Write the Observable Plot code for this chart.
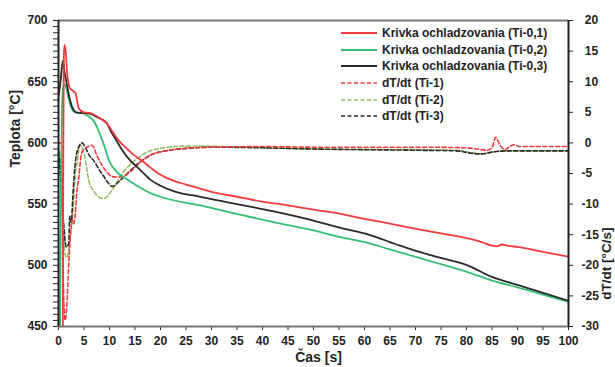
<!DOCTYPE html>
<html>
<head>
<meta charset="utf-8">
<script src="https://cdn.jsdelivr.net/npm/d3@7"></script>
<script src="https://cdn.jsdelivr.net/npm/@observablehq/plot@0.6"></script>
<style>
  body { margin: 0; background: #fff; }
  #wrap { position: relative; width: 615px; height: 367px; font-family: "Liberation Sans", Arial, sans-serif; }
  #legend { position: absolute; left: 341px; top: 24.5px; font-weight: bold; font-size: 12px; color: #222; }
  #legend .row { display: flex; align-items: center; height: 16.7px; white-space: nowrap; }
  #legend svg { margin-right: 5px; }
</style>
</head>
<body>
<div id="wrap"><div id="legend"></div></div>
<script>
// ---- data: cooling curves (temperature, °C) ----
const tRedT = [0.85,0.95,1.05,1.2,1.4,1.7,2.2,2.7,3.3,4,5,6,7,8.2,9.5,10.8,12,13.5,14.8,16.5,18,20,22.6,25,27.8,30,35,40,45,50,55.3,60,65,70.4,75,80.2,83,85,86,87,88,90,95,100];
const vRedT = [450,600,672,680,675,657,645,643,641,628,625,624.5,623,620,616,608,601,595,590,585,580,574,569,566,562.7,560,556,552,549,545.5,542,538,534,529.5,526,522,519,516,515.5,517,516,515,511,507];

const tGrnT = [0.3,0.5,0.7,0.9,1.1,1.5,2,2.6,3.2,4,5,5.8,6.9,8.6,10.2,11.5,13.5,15.4,18,20,25,27.8,31.8,36,42.2,50,55.3,60,65,70.4,75,80.2,85,90,95,100];
const vGrnT = [450,560,630,645,648,645,636,628,625,624.5,624,622,618,602,583,576,570,565,559,556,551,549,545,541,535.2,528.5,523,519,513,506.4,501,494.5,487.5,482,476,470];

const tBlkT = [0,0.4,0.7,0.9,1.1,1.5,2,2.7,3.5,4.5,6,7.6,9.5,10.2,11.5,12.5,14,16,18,20,23,27.8,30,36.3,42.2,50,55.3,60,65,67,70.4,75,80.2,85,90,95,100];
const vBlkT = [638,650,663,667,660,651,640,629,625,624.5,624,621,616,610,601,594,586,578,570,565,560,556,554,549,544,536.5,530.6,526,519,516,511.3,506,500,490.5,484,477.5,471];

// ---- data: cooling rate dT/dt (°C/s) ----
const tRedD = [0,0.6,0.75,0.9,1.1,1.3,1.6,2,2.35,2.7,3,3.3,3.6,4,4.3,4.6,5.6,6.6,7.6,8.5,9.5,10.5,12,13.2,14.5,16,18,21,25,30,40,50,60,70,80,82,84,85,85.7,86.6,87.6,88.5,89.3,90.5,95,100];
const vRedD = [0,0,-8,-20,-27,-29,-27,-20,-15,-12.5,-13.2,-11.6,-8,-5.6,-2.9,-1.5,-0.7,-0.4,-2.2,-3.6,-4.8,-5.5,-5.6,-5.2,-4.4,-3.2,-2,-1.3,-0.9,-0.7,-0.6,-0.7,-0.7,-0.7,-0.8,-1.0,-1.2,-0.8,0.9,-0.4,-1.1,-0.6,-0.3,-0.6,-0.6,-0.6];

const tGrnD = [0,0.3,0.6,0.9,1.2,1.4,1.7,2.35,2.7,3.3,3.7,4.2,4.7,5.3,5.9,7,8,8.9,10,11.2,12.5,14,16,18,20,23,27,32,40,50,60,70,78,81,83,85,88,92,100];
const vGrnD = [-1,-2,-6,-13,-17.5,-18.5,-18.7,-15,-12.7,-5,-3,-0.3,-1,-2.9,-6,-8,-8.9,-9.1,-8.3,-6.8,-5,-3.6,-2.2,-1.3,-0.9,-0.6,-0.5,-0.6,-0.8,-1.0,-1.1,-1.1,-1.2,-1.6,-1.8,-1.5,-1.3,-1.3,-1.3];

const tBlkD = [0,0.3,0.6,1.0,1.5,2.0,2.2,2.5,2.8,3.1,3.5,4,4.6,5.3,6,6.9,8,8.9,9.7,10.5,12,13.5,15,16.5,18,21,25,30,40,50,60,70,78,81,83,85,88,92,100];
const vBlkD = [-1.5,-4,-9,-13,-17,-16.5,-12,-13,-9,-5,-2,-0.6,0,-0.8,-2,-2.9,-4.4,-5.5,-6.5,-7.1,-6.2,-5,-3.8,-2.8,-2,-1.3,-0.9,-0.7,-0.8,-1.0,-1.1,-1.2,-1.3,-1.7,-1.8,-1.5,-1.3,-1.3,-1.3];

// ---- ticks & labels ----
const xTicks = d3.range(0, 101, 5);
const leftTicks = d3.range(450, 701, 5);
const rightTicks = d3.range(-30, 21, 5);
const seriesNames = ["Krivka ochladzovania (Ti-0,1)", "Krivka ochladzovania (Ti-0,2)", "Krivka ochladzovania (Ti-0,3)", "dT/dt (Ti-1)", "dT/dt (Ti-2)", "dT/dt (Ti-3)"];
const seriesColors = ["#f03c3c", "#35bf72", "#2a2a2a", "#f03c3c", "#98bb62", "#2a2a2a"];
const seriesDash = [null, null, null, "4,2.5", "4,2.5", "4,2.5"];

// right axis (dT/dt) mapped into the left (temperature) domain
const toLeft = d => 450 + (d + 30) * 5;
const fromLeft = v => (v - 450) / 5 - 30;

const mk = (ts, vs, f) => ts.map((t, i) => ({t, v: f ? f(vs[i]) : vs[i]}));
const series = [
  mk(tRedT, vRedT), mk(tGrnT, vGrnT), mk(tBlkT, vBlkT),
  mk(tRedD, vRedD, toLeft), mk(tGrnD, vGrnD, toLeft), mk(tBlkD, vBlkD, toLeft)
];

const lineMarks = series.map((data, i) => Plot.line(data, {
  x: "t", y: "v", stroke: seriesColors[i],
  strokeWidth: seriesDash[i] ? 1.6 : 1.8,
  strokeDasharray: seriesDash[i] || undefined,
  curve: "monotone-x", clip: true
}));
const ordered = [lineMarks[4], lineMarks[5], lineMarks[3], lineMarks[1], lineMarks[2], lineMarks[0]];

const chart = Plot.plot({
  width: 615, height: 367,
  marginLeft: 58, marginRight: 47, marginTop: 20, marginBottom: 41,
  x: {domain: [0, 100]},
  y: {domain: [450, 700]},
  style: {fontFamily: "Liberation Sans, Arial, sans-serif", fontSize: "12px", fontWeight: "bold", color: "#222", background: "#fff"},
  marks: [
    Plot.axisY({ticks: leftTicks, tickFormat: d => d % 50 === 0 ? String(d) : "", tickSize: 5, tickPadding: 6, label: null}),
    Plot.axisY({anchor: "right", ticks: rightTicks.map(toLeft), tickFormat: v => { const d = Math.round(fromLeft(v)); return d < 0 ? "-" + Math.abs(d) : "\u2008" + d; }, tickSize: 4, tickPadding: 9, label: null}),
    Plot.axisX({ticks: xTicks, tickSize: 4, tickPadding: 6, label: null}),
    ...ordered,
    Plot.ruleY([700], {stroke: "#777", strokeWidth: 2}),
    Plot.ruleY([450], {stroke: "#777", strokeWidth: 2}),
    Plot.ruleX([0], {stroke: "#222", strokeWidth: 2}),
    Plot.ruleX([100], {stroke: "#222", strokeWidth: 2}),
    Plot.text(["Teplota [°C]"], {text: d => d, frameAnchor: "left", dx: -43, dy: -6, rotate: -90, fontSize: 14, fontWeight: "bold"}),
    Plot.text(["dT/dt [°C/s]"], {text: d => d, frameAnchor: "right", dx: 38, dy: 54, rotate: -90, fontSize: 13.5, fontWeight: "bold"}),
    Plot.text(["Čas [s]"], {text: d => d, frameAnchor: "bottom", dx: 5, dy: 35, fontSize: 14, fontWeight: "bold"})
  ]
});
const wrap = document.getElementById("wrap");
wrap.insertBefore(chart, wrap.firstChild);

// legend
const legend = document.getElementById("legend");
seriesNames.forEach((name, i) => {
  const row = document.createElement("div");
  row.className = "row";
  row.innerHTML = `<svg width="36" height="6"><line x1="0" y1="3" x2="36" y2="3" stroke="${seriesColors[i]}" stroke-width="${seriesDash[i] ? 1.6 : 1.8}" ${seriesDash[i] ? `stroke-dasharray="${seriesDash[i]}"` : ""}/></svg><span>${name}</span>`;
  legend.appendChild(row);
});
</script>
</body>
</html>
